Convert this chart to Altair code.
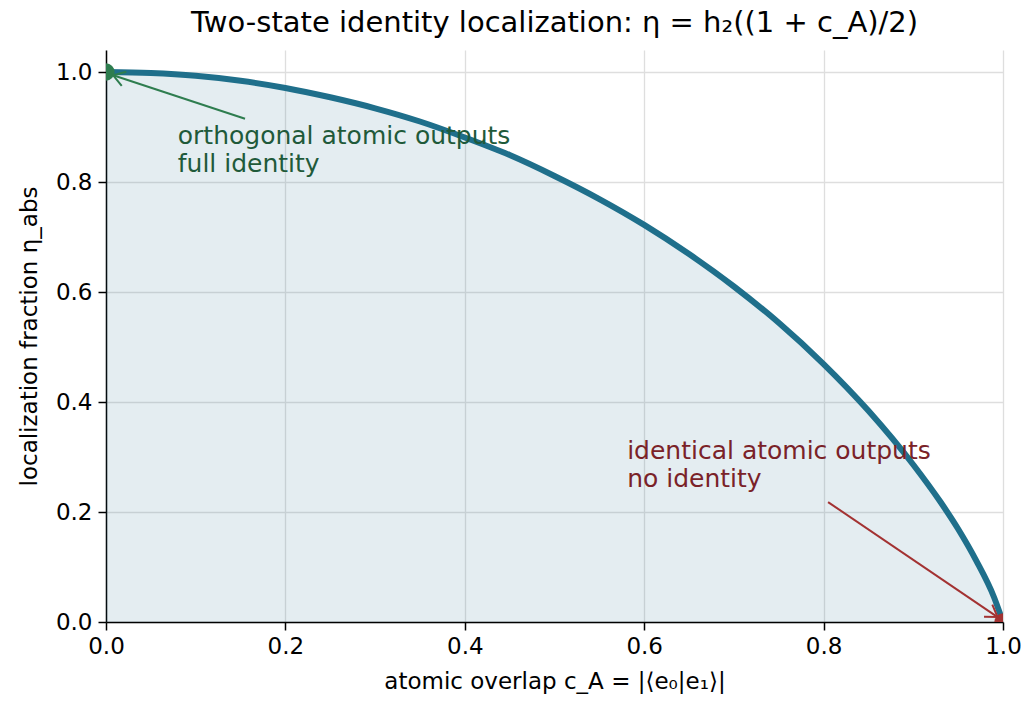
import altair as alt
import pandas as pd

# Curve values
c_vals = [0.0, 0.05, 0.1, 0.15, 0.2, 0.25, 0.3, 0.35, 0.4, 0.45, 0.5, 0.55, 0.6,
          0.65, 0.7, 0.75, 0.8, 0.85, 0.9, 0.93, 0.95, 0.97, 0.99, 1.0]
eta_vals = [1.0, 0.998, 0.993, 0.984, 0.971, 0.954, 0.934, 0.910, 0.881, 0.849,
            0.811, 0.769, 0.722, 0.669, 0.610, 0.544, 0.469, 0.384, 0.286, 0.219,
            0.169, 0.112, 0.045, 0.0]

# Endpoint markers
end_x = [0.0, 1.0]
end_y = [1.0, 0.0]
end_color = ["#2e7d4f", "#a33232"]

# Annotations
ann_text = [["orthogonal atomic outputs", "full identity"],
            ["identical atomic outputs", "no identity"]]
ann_x = [0.080, 0.581]
ann_y = [0.905, 0.332]
ann_color = ["#1f5a3a", "#7a2228"]

# Arrows (tail -> tip)
arr_x = [0.155, 0.805]
arr_y = [0.915, 0.218]
arr_x2 = [0.008, 0.994]
arr_y2 = [0.994, 0.009]
arr_angle = [198, 34]
arr_color = ["#2e7d4f", "#a33232"]

curve = pd.DataFrame({"c": c_vals, "eta": eta_vals})
ends = pd.DataFrame({"x": end_x, "y": end_y, "col": end_color})
anns = pd.DataFrame({"x": ann_x, "y": ann_y, "t": ann_text, "col": ann_color})
arrows = pd.DataFrame({"x": arr_x, "y": arr_y, "x2": arr_x2, "y2": arr_y2,
                       "ang": arr_angle, "col": arr_color})

FONT = "DejaVu Sans"
xs = alt.Scale(domain=[0, 1.0], nice=False, zero=False)
ys = alt.Scale(domain=[0, 1.04], nice=False, zero=False)

xaxis = alt.Axis(values=[0, 0.2, 0.4, 0.6, 0.8, 1.0], format=".1f", labelFlush=False,
                 title="atomic overlap c_A = |⟨e₀|e₁⟩|", titlePadding=12)
yaxis = alt.Axis(values=[0, 0.2, 0.4, 0.6, 0.8, 1.0], format=".1f", labelFlush=False,
                 title="localization fraction η_abs", titlePadding=14)

base = alt.Chart(curve)

area = base.mark_area(color="#1f6f8b", opacity=0.12, interpolate="monotone").encode(
    x=alt.X("c:Q", scale=xs, axis=xaxis),
    y=alt.Y("eta:Q", scale=ys, axis=yaxis),
)

line = base.mark_line(color="#1f6f8b", strokeWidth=6, clip=True,
                      interpolate="monotone").encode(
    x=alt.X("c:Q", scale=xs), y=alt.Y("eta:Q", scale=ys)
)

arrow_lines = alt.Chart(arrows).mark_rule(strokeWidth=2).encode(
    x=alt.X("x:Q", scale=xs), y=alt.Y("y:Q", scale=ys),
    x2="x2:Q", y2="y2:Q",
    color=alt.Color("col:N", scale=None),
)

pts = alt.Chart(ends).mark_circle(size=300, opacity=1, clip=True).encode(
    x=alt.X("x:Q", scale=xs), y=alt.Y("y:Q", scale=ys),
    color=alt.Color("col:N", scale=None),
)

heads = alt.Chart(arrows).mark_point(
    shape="M-1,-0.65L0,0L-1,0.65", filled=False, strokeWidth=2, size=520, opacity=1
).encode(
    x=alt.X("x2:Q", scale=xs), y=alt.Y("y2:Q", scale=ys),
    angle=alt.Angle("ang:Q", scale=None),
    color=alt.Color("col:N", scale=None),
)

texts = alt.Chart(anns).mark_text(
    align="left", baseline="top", font=FONT, fontSize=25, lineHeight=28
).encode(
    x=alt.X("x:Q", scale=xs), y=alt.Y("y:Q", scale=ys),
    text="t",
    color=alt.Color("col:N", scale=None),
)

chart = alt.layer(area, line, arrow_lines, pts, heads, texts).properties(
    width=897, height=572,
    title=alt.Title("Two-state identity localization: η = h₂((1 + c_A)/2)",
                    font=FONT, fontSize=29, fontWeight="normal", color="black",
                    offset=12),
    autosize=alt.AutoSizeParams(type="none"),
    padding={"left": 106, "top": 50, "right": 23, "bottom": 81},
).configure_view(strokeWidth=0).configure_axis(
    labelFont=FONT, titleFont=FONT, labelFontSize=23, titleFontSize=23,
    titleFontWeight="normal", labelColor="black", titleColor="black",
    domainColor="black", domainWidth=1.5, tickColor="black", tickWidth=1.5,
    tickSize=8, labelPadding=5, gridColor="#dedede", gridWidth=1.3,
).configure_axisY(labelPadding=6)

chart.save("out.html", embed_options={"renderer": "svg", "actions": False})
